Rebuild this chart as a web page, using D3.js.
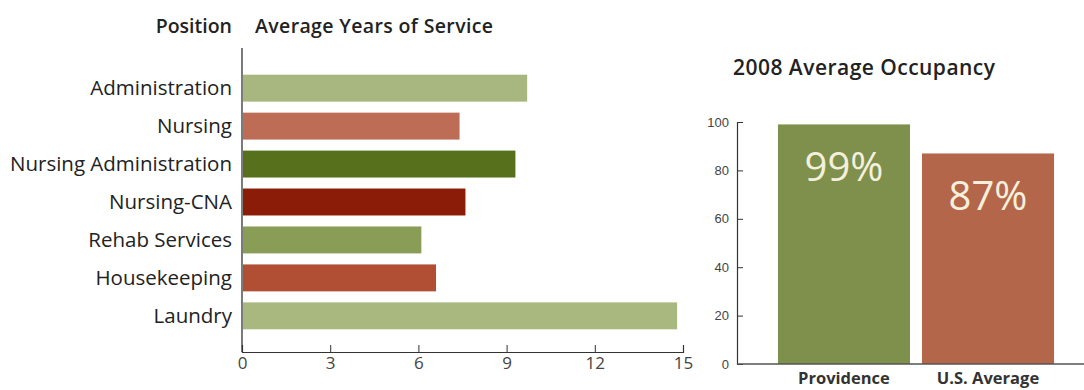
<!DOCTYPE html>
<html>
<head>
<meta charset="utf-8">
<script src="https://cdn.jsdelivr.net/npm/d3@7"></script>
<style>
  body { margin: 0; background: #fff; }
  svg { display: block; font-family: "Open Sans", Lato, sans-serif; }
  .axis path, .axis line { stroke: #333; }
  .axis text { fill: #444; }
</style>
</head>
<body>
<svg width="1084" height="390"></svg>
<script>
// years of service per position
const positions = ["Administration", "Nursing", "Nursing Administration", "Nursing-CNA", "Rehab Services", "Housekeeping", "Laundry"];
const years = [9.7, 7.4, 9.3, 7.6, 6.1, 6.6, 14.8];
const yearColors = ["#a8b67f", "#bd6d55", "#56701c", "#8b1d08", "#8a9d57", "#b04f34", "#a9b87f"];
const yearTicks = [0, 3, 6, 9, 12, 15];

// 2008 occupancy
const places = ["Providence", "U.S. Average"];
const occupancy = [99, 87];
const occColors = ["#7f8f4c", "#b4664a"];
const occTicks = [0, 20, 40, 60, 80, 100];

const svg = d3.select("svg");

// ---- left chart ----
const x = d3.scaleLinear().domain([0, 15]).range([242, 683]);
const y = d3.scaleBand().domain(positions).range([69, 335]).paddingInner(0.29).paddingOuter(0.15);

svg.append("text").attr("x", 232).attr("y", 33).attr("text-anchor", "end")
    .attr("font-size", 19.5).attr("font-weight", 600).attr("fill", "#222").text("Position");
svg.append("text").attr("x", 255).attr("y", 33)
    .attr("font-size", 19.5).attr("font-weight", 600).attr("fill", "#222")
    .attr("textLength", 238).text("Average Years of Service");

svg.append("line").attr("x1", 242).attr("x2", 242).attr("y1", 48).attr("y2", 352)
    .attr("stroke", "#222").attr("stroke-width", 1.2);

svg.selectAll("rect.yrs").data(positions).enter().append("rect")
    .attr("class", "yrs")
    .attr("x", x(0) + 1)
    .attr("y", d => y(d))
    .attr("width", (d, i) => x(years[i]) - x(0) - 1)
    .attr("height", y.bandwidth())
    .attr("fill", (d, i) => yearColors[i]);

svg.selectAll("text.pos").data(positions).enter().append("text")
    .attr("class", "pos")
    .attr("x", 232)
    .attr("y", d => y(d) + y.bandwidth() / 2)
    .attr("dy", "0.35em")
    .attr("text-anchor", "end")
    .attr("font-size", 20.5)
    .attr("fill", "#222")
    .text(d => d);

const xAxis = svg.append("g").attr("class", "axis").attr("transform", "translate(0,352)")
    .call(d3.axisBottom(x).tickValues(yearTicks).tickSize(-7).tickSizeOuter(-7).tickPadding(5));
xAxis.selectAll("text").attr("font-size", 17).attr("font-family", "'Open Sans', sans-serif");
xAxis.select(".domain").attr("stroke-width", 1.2);

// ---- right chart ----
const x2 = d3.scaleBand().domain(places).range([766, 1066]).paddingInner(0.083).paddingOuter(0.083);
const y2 = d3.scaleLinear().domain([0, 100]).range([364, 122]);

svg.append("text").attr("x", 733).attr("y", 75)
    .attr("font-size", 21).attr("font-weight", 600).attr("fill", "#222")
    .attr("textLength", 262).text("2008 Average Occupancy");

svg.selectAll("rect.occ").data(places).enter().append("rect")
    .attr("class", "occ")
    .attr("x", d => x2(d))
    .attr("y", (d, i) => y2(occupancy[i]))
    .attr("width", x2.bandwidth())
    .attr("height", (d, i) => y2(0) - y2(occupancy[i]))
    .attr("fill", (d, i) => occColors[i]);

svg.selectAll("text.pct").data(places).enter().append("text")
    .attr("class", "pct")
    .attr("x", d => x2(d) + x2.bandwidth() / 2)
    .attr("y", (d, i) => y2(occupancy[i]) + 57)
    .attr("text-anchor", "middle")
    .attr("font-size", 40)
    .attr("fill", "#f4f0dc")
    .text((d, i) => occupancy[i] + "%");

const yAxis = svg.append("g").attr("class", "axis").attr("transform", "translate(737,0)")
    .call(d3.axisLeft(y2).tickValues(occTicks).tickSize(-6).tickSizeOuter(-6).tickPadding(8));
yAxis.selectAll("text").attr("font-size", 13).attr("fill", "#555");
yAxis.select(".domain").attr("stroke-width", 1.2);

svg.append("line").attr("x1", 737).attr("x2", 1084).attr("y1", 364).attr("y2", 364)
    .attr("stroke", "#555").attr("stroke-width", 1.5);

svg.selectAll("text.place").data(places).enter().append("text")
    .attr("class", "place")
    .attr("x", d => x2(d) + x2.bandwidth() / 2)
    .attr("y", 384)
    .attr("text-anchor", "middle")
    .attr("font-size", 16.5)
    .attr("font-weight", 700)
    .attr("fill", "#333")
    .text(d => d);
</script>
</body>
</html>
